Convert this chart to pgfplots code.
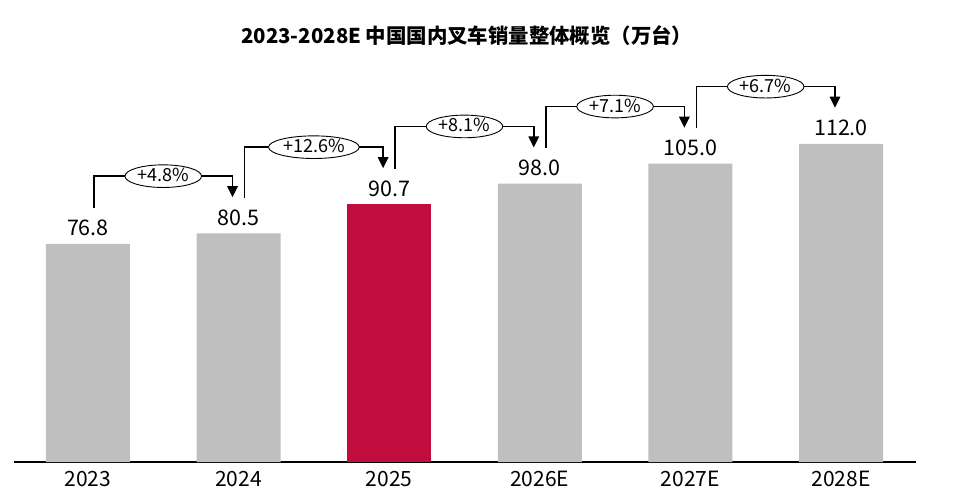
\documentclass[border=0pt]{standalone}
\usepackage{pgfplots}
\pgfplotsset{compat=1.18}
\usepackage{fontspec}
\setmainfont{Noto Sans CJK SC}
\usetikzlibrary{arrows.meta,shapes.geometric}
\definecolor{barGray}{RGB}{191,191,191}
\definecolor{barRed}{RGB}{193,13,61}
\begin{document}
\begin{tikzpicture}
\begin{axis}[
  name=ax,
  scale only axis,
  width=902bp, height=462bp,
  xmin=-0.491, xmax=5.498,
  ymin=0, ymax=162.6,
  hide y axis,
  axis x line*=bottom,
  x axis line style={-, line width=1.2bp, black},
  xtick={0,1,2,3,4,5},
  xticklabels={2023,2024,2025,2026E,2027E,2028E},
  major tick length=0pt,
  xticklabel style={font=\fontsize{21bp}{23bp}\selectfont, anchor=base, yshift=-24.5bp},
  clip=false,
  nodes near coords={\pgfmathprintnumber[fixed,fixed zerofill,precision=1,assume math mode=true]{\pgfplotspointmeta}},
  every node near coord/.append style={font=\fontsize{21.5bp}{23bp}\selectfont, anchor=base, yshift=8bp, black},
]
\addplot[ybar, bar width=84bp, bar shift=0pt, fill=barGray, draw=none] coordinates {(0,76.8) (1,80.5) (3,98.0) (4,105.0) (5,112.0)};
\addplot[ybar, bar width=84bp, bar shift=0pt, fill=barRed, draw=none] coordinates {(2,90.7)};
\pgfplotsset{arrowline/.style={black, line width=1.6bp, -{Triangle[width=10.5bp,length=11bp]}, mark=none, nodes near coords={}}}
\addplot[arrowline] coordinates {(0.04,89.3) (0.04,100.6) (0.96,100.6) (0.96,93.2)};
\addplot[arrowline] coordinates {(1.04,93.0) (1.04,110.8) (1.96,110.8) (1.96,103.4)};
\addplot[arrowline] coordinates {(2.04,103.2) (2.04,118.1) (2.96,118.1) (2.96,110.7)};
\addplot[arrowline] coordinates {(3.04,110.5) (3.04,125.1) (3.96,125.1) (3.96,117.7)};
\addplot[arrowline] coordinates {(4.04,117.5) (4.04,132.1) (4.96,132.1) (4.96,124.7)};
\tikzset{gr/.style={ellipse, draw=black, line width=0.9bp, fill=white, inner xsep=1.3bp, inner ysep=0bp, text height=13.5bp, text depth=2.5bp, font=\fontsize{18bp}{20bp}\selectfont}}
\node[gr] at (axis cs:0.5,100.6) {+4.8\%};
\node[gr] at (axis cs:1.5,110.8) {+12.6\%};
\node[gr] at (axis cs:2.5,118.1) {+8.1\%};
\node[gr] at (axis cs:3.5,125.1) {+7.1\%};
\node[gr] at (axis cs:4.5,132.1) {+6.7\%};
\node[font=\bfseries\fontsize{20.4bp}{22bp}\selectfont] at (rel axis cs:0.502,0.924) {2023-2028E 中国国内叉车销量整体概览（万台）};
\end{axis}
\pgfresetboundingbox
\useasboundingbox ([xshift=-14bp,yshift=-39bp]ax.south west) rectangle ([xshift=38bp]ax.north east);
\end{tikzpicture}
\end{document}
